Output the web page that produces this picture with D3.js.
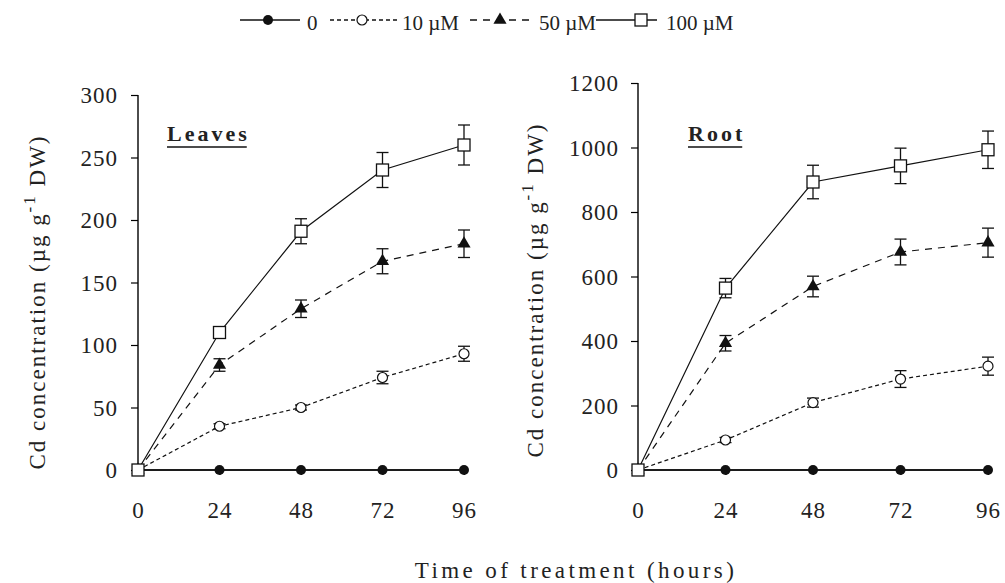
<!DOCTYPE html>
<html>
<head>
<meta charset="utf-8">
<script src="https://cdn.jsdelivr.net/npm/d3@7"></script>
<style>
  body { margin: 0; background: #fff; }
  text { font-family: "Liberation Serif", "Times New Roman", serif; fill: #222; }
</style>
</head>
<body>
<svg width="1005" height="583"></svg>
<script>
var svg = d3.select("svg");

// data
var hours = [0, 24, 48, 72, 96];
var series = ["0", "10 \u00b5M", "50 \u00b5M", "100 \u00b5M"];

var leaves0   = [0, 0, 0, 0, 0];
var leaves10  = [0, 35, 50, 74, 93];
var leaves50  = [0, 84, 129, 167, 181];
var leaves100 = [0, 110, 191, 240, 260];
var leavesErr10  = [0, 2, 2, 5, 6];
var leavesErr50  = [0, 5, 7, 10, 11];
var leavesErr100 = [0, 3, 10, 14, 16];

var root0   = [0, 0, 0, 0, 0];
var root10  = [0, 93, 209, 282, 322];
var root50  = [0, 393, 569, 676, 705];
var root100 = [0, 564, 893, 943, 993];
var rootErr10  = [0, 8, 14, 26, 28];
var rootErr50  = [0, 24, 32, 40, 45];
var rootErr100 = [0, 30, 52, 55, 58];

var leavesTicks = [0, 50, 100, 150, 200, 250, 300];
var rootTicks = [0, 200, 400, 600, 800, 1000, 1200];

var dashes = [null, "4,3", "7,6", null];
var markers = ["filled", "circle", "triangle", "square"];

function styleTicks(sel) {
    sel.selectAll(".tick text")
        .attr("font-family", null)
        .attr("fill", "#222")
        .style("font-size", "23px")
        .style("letter-spacing", "1px");
}

function drawPanel(opt) {
    var x = d3.scaleLinear().domain([0, 96]).range([opt.x0, opt.x1]);
    var y = d3.scaleLinear().domain([0, opt.ymax]).range([470, opt.ytop]);
    var g = svg.append("g");

    var data = opt.values.map(function(v, i) {
        return hours.map(function(h, j) {
            return { h: h, v: v[j], e: opt.errs[i] ? opt.errs[i][j] : 0 };
        });
    });

    // axes
    var ya = g.append("g").attr("transform", "translate(" + opt.x0 + ",0)")
        .call(d3.axisLeft(y).tickValues(opt.ticks).tickFormat(d3.format("d")).tickSize(7).tickPadding(opt.pad));
    ya.select(".domain").attr("d", "M0," + (470 + 6) + "V" + opt.ytop).attr("stroke-width", 1.4);
    ya.selectAll(".tick line").attr("stroke-width", 1.2);
    styleTicks(ya);
    ya.selectAll(".tick text").attr("dy", "0.34em");

    var xa = g.append("g").attr("transform", "translate(0,470)")
        .call(d3.axisBottom(x).tickValues(hours).tickSize(5));
    xa.select(".domain").attr("d", "M" + opt.x0 + ",0H" + opt.x1).attr("stroke-width", 1.4);
    xa.selectAll(".tick line").attr("stroke-width", 1.2);
    styleTicks(xa);
    xa.selectAll(".tick text").attr("y", 48).attr("dy", 0);

    var line = d3.line().x(function(d) { return x(d.h); }).y(function(d) { return y(d.v); });

    data.forEach(function(s, i) {
        g.append("path").datum(s)
            .attr("d", line)
            .attr("fill", "none")
            .attr("stroke", "#111")
            .attr("stroke-width", i == 0 ? 1.6 : 1.2)
            .attr("stroke-dasharray", dashes[i]);
    });

    // error bars
    data.forEach(function(s, i) {
        var eb = g.selectAll(".eb" + i).data(s.filter(function(d) { return d.e > 0; }))
            .enter().append("g").attr("stroke", "#111").attr("stroke-width", 1.3);
        eb.append("line")
            .attr("x1", function(d) { return x(d.h); }).attr("x2", function(d) { return x(d.h); })
            .attr("y1", function(d) { return y(d.v - d.e); }).attr("y2", function(d) { return y(d.v + d.e); });
        [1, -1].forEach(function(sg) {
            eb.append("line")
                .attr("x1", function(d) { return x(d.h) - 6; }).attr("x2", function(d) { return x(d.h) + 6; })
                .attr("y1", function(d) { return y(d.v + sg * d.e); }).attr("y2", function(d) { return y(d.v + sg * d.e); });
        });
    });

    // markers
    data.forEach(function(s, i) {
        s.forEach(function(d) {
            drawMarker(g, markers[i], x(d.h), y(d.v));
        });
    });

    // panel label
    var lab = g.append("text").attr("x", opt.labX).attr("y", opt.labY)
        .attr("font-weight", "bold").style("font-size", "22px")
        .style("letter-spacing", "3px").text(opt.label);
    var w = lab.node().getComputedTextLength() - 3;
    g.append("line").attr("x1", opt.labX).attr("x2", opt.labX + w)
        .attr("y1", opt.labY + 6).attr("y2", opt.labY + 6)
        .attr("stroke", "#111").attr("stroke-width", 1.5);

    // y title
    var t = g.append("text")
        .attr("transform", "translate(" + opt.titleX + "," + opt.titleY + ") rotate(-90)")
        .attr("text-anchor", "middle").style("font-size", "23px").style("letter-spacing", "2px");
    t.append("tspan").text("Cd concentration (\u00b5g g");
    t.append("tspan").attr("dy", -10).style("font-size", "17px").text("-1");
    t.append("tspan").attr("dy", 10).text(" DW)");
}

function drawMarker(g, type, cx, cy) {
    if (type == "filled") {
        g.append("circle").attr("cx", cx).attr("cy", cy).attr("r", 5).attr("fill", "#111");
    } else if (type == "circle") {
        g.append("circle").attr("cx", cx).attr("cy", cy).attr("r", 5)
            .attr("fill", "#fff").attr("stroke", "#111").attr("stroke-width", 1.2);
    } else if (type == "triangle") {
        g.append("path").attr("d", d3.symbol(d3.symbolTriangle, 75)())
            .attr("transform", "translate(" + cx + "," + cy + ")").attr("fill", "#111");
    } else {
        g.append("rect").attr("x", cx - 6).attr("y", cy - 6).attr("width", 12).attr("height", 12)
            .attr("fill", "#fff").attr("stroke", "#111").attr("stroke-width", 1.3);
    }
}

drawPanel({
    x0: 138, x1: 464, ytop: 95, ymax: 300, ticks: leavesTicks, pad: 13,
    values: [leaves0, leaves10, leaves50, leaves100],
    errs: [null, leavesErr10, leavesErr50, leavesErr100],
    label: "Leaves", labX: 167, labY: 141, titleX: 45, titleY: 302
});

drawPanel({
    x0: 638, x1: 988, ytop: 83, ymax: 1200, ticks: rootTicks, pad: 12,
    values: [root0, root10, root50, root100],
    errs: [null, rootErr10, rootErr50, rootErr100],
    label: "Root", labX: 688, labY: 141, titleX: 543, titleY: 290
});

// legend
var legend = [
    { x1: 240, x2: 300, mx: 268, tx: 307 },
    { x1: 330, x2: 397, mx: 362, tx: 402 },
    { x1: 470, x2: 530, mx: 500, tx: 539 },
    { x1: 596, x2: 657, mx: 641, tx: 666 }
];
var lg = svg.append("g");
legend.forEach(function(l, i) {
    lg.append("line").attr("x1", l.x1).attr("x2", l.x2).attr("y1", 20).attr("y2", 20)
        .attr("stroke", "#111").attr("stroke-width", 1.3).attr("stroke-dasharray", dashes[i]);
    drawMarker(lg, markers[i], l.mx, 20);
    lg.append("text").attr("x", l.tx).attr("y", 30).style("font-size", "21px").text(series[i]);
});

svg.append("text").attr("x", 576).attr("y", 578).attr("text-anchor", "middle")
    .style("font-size", "23px").style("letter-spacing", "3.4px").text("Time of treatment (hours)");
</script>
</body>
</html>
